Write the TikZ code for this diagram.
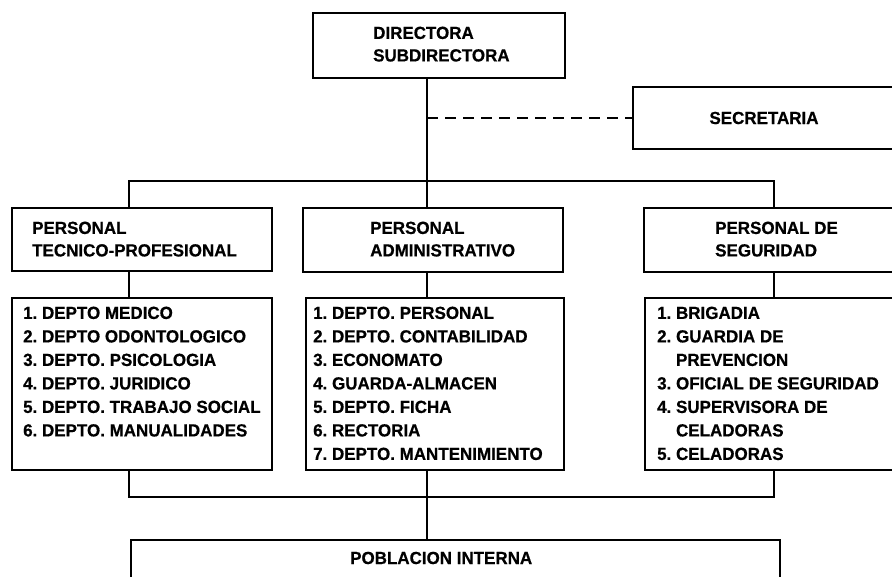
\documentclass[tikz,border=0pt]{standalone}
\usepackage{fontspec}
\setmainfont{Liberation Sans}[FakeStretch=0.97]
\newfontfamily\heavyfont{Liberation Sans Bold}[FakeStretch=0.97,FakeBold=0.6]
\frenchspacing
\begin{document}
\begin{tikzpicture}[x=1pt,y=-1pt,
  box/.style={draw,line width=2.2pt,inner sep=0pt,minimum width=#1},
  lbl/.style={inner sep=0pt,anchor=north west,align=left,font=\heavyfont\fontsize{17.5pt}{22.5pt}\selectfont},
  lst/.style={inner sep=0pt,anchor=north west,align=left,font=\heavyfont\fontsize{17.5pt}{23.5pt}\selectfont},
  conn/.style={line width=2.2pt}]
\path[use as bounding box,clip] (0,0) rectangle (892,577);
\fill[white] (0,0) rectangle (892,577);
% boxes
\node[box=252pt,minimum height=65pt] (dir) at (439,45.5) {};
\node[box=267pt,minimum height=62pt] (sec) at (766.5,118) {};
\node[box=260pt,minimum height=63pt] (hl) at (142,239.5) {};
\node[box=260pt,minimum height=64pt] (hm) at (433,240) {};
\node[box=256pt,minimum height=64pt] (hr) at (772,240) {};
\node[box=260pt,minimum height=172pt] (ll) at (142,384) {};
\node[box=258pt,minimum height=172pt] (lm) at (435,384) {};
\node[box=255pt,minimum height=172pt] (lr) at (772.5,384) {};
\node[box=649pt,minimum height=60pt] (pop) at (455.5,570) {};
% texts
\node[lbl] (dirt) at (373,26.5) {DIRECTORA\\SUBDIRECTORA};
\node[lbl,anchor=center] (sect) at (764,118) {SECRETARIA};
\node[lbl] (hlt) at (32,221.5) {PERSONAL\\TECNICO-PROFESIONAL};
\node[lbl] (hmt) at (370,221.5) {PERSONAL\\ADMINISTRATIVO};
\node[lbl] (hrt) at (715,221.5) {PERSONAL DE\\SEGURIDAD};
\node[lst] (llt) at (23,306.5) {1. DEPTO MEDICO\\2. DEPTO ODONTOLOGICO\\3. DEPTO. PSICOLOGIA\\4. DEPTO. JURIDICO\\5. DEPTO. TRABAJO SOCIAL\\6. DEPTO. MANUALIDADES};
\node[lst] (lmt) at (313,306.5) {1. DEPTO. PERSONAL\\2. DEPTO. CONTABILIDAD\\3. ECONOMATO\\4. GUARDA-ALMACEN\\5. DEPTO. FICHA\\6. RECTORIA\\7. DEPTO. MANTENIMIENTO};
\node[lst] (lrt) at (657,306.5) {1. BRIGADIA\\2. GUARDIA DE\\\phantom{2. }PREVENCION\\3. OFICIAL DE SEGURIDAD\\4. SUPERVISORA DE\\\phantom{4. }CELADORAS\\5. CELADORAS};
\node[lbl,anchor=west] (popt) at (350,558) {POBLACION INTERNA};
% bus coordinates
\coordinate (xl) at (129,0);
\coordinate (xm) at (427,0);
\coordinate (xr) at (774,0);
\coordinate (bt) at (427,181);
\coordinate (bb) at (427,497);
% connectors
\draw[conn] (dir.south -| xm) -- (bt);
\draw[conn,dash pattern=on 11pt off 7pt] (xm |- sec.west) -- (sec.west);
\draw[conn] (hl.north -| xl) -- (xl |- bt) -- (xr |- bt) -- (hr.north -| xr);
\draw[conn] (bt) -- (hm.north -| xm);
\draw[conn] (hl.south -| xl) -- (ll.north -| xl);
\draw[conn] (hm.south -| xm) -- (lm.north -| xm);
\draw[conn] (hr.south -| xr) -- (lr.north -| xr);
\draw[conn] (ll.south -| xl) -- (xl |- bb) -- (xr |- bb) -- (lr.south -| xr);
\draw[conn] (lm.south -| xm) -- (pop.north -| xm);
\end{tikzpicture}
\end{document}
